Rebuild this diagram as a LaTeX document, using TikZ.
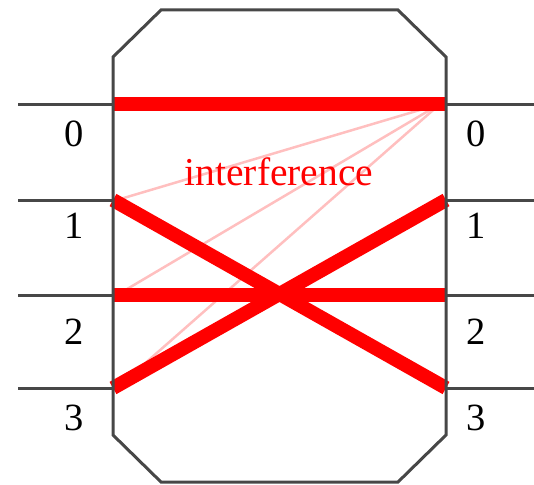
\documentclass[tikz,border=0pt]{standalone}
\usepackage{fontspec}
\setmainfont{Liberation Serif}
\begin{document}
\begin{tikzpicture}[x=1pt,y=-1pt,
  wire/.style={draw=black!72,line width=3pt},
  box/.style={draw=black!72,line width=3pt,line join=miter},
  beam/.style={draw=red,line width=14pt},
  ghost/.style={draw=red!25,line width=2.5pt},
  lbl/.style={font=\fontsize{38.5}{40}\selectfont,anchor=base,inner sep=0pt}]
\useasboundingbox (0,0) rectangle (534,484);
% ports
\coordinate (L0) at (113,104);
\coordinate (L1) at (113,200);
\coordinate (L2) at (113,295);
\coordinate (L3) at (113,388);
\coordinate (R0) at (446,104);
\coordinate (R1) at (446,200);
\coordinate (R2) at (446,295);
\coordinate (R3) at (446,388);
\coordinate (LE0) at (18,104);
\coordinate (LE1) at (18,200);
\coordinate (LE2) at (18,295);
\coordinate (LE3) at (18,388);
\coordinate (RE0) at (534,104);
\coordinate (RE1) at (534,200);
\coordinate (RE2) at (534,295);
\coordinate (RE3) at (534,388);
\coordinate (S) at (440,104);
\coordinate (G1) at (117,200);
\coordinate (G2) at (117,295);
\coordinate (G3) at (117,388);
% ghost lines
\draw[ghost] (S) -- (G1);
\draw[ghost] (S) -- (G2);
\draw[ghost] (S) -- (G3);
% beams
\draw[beam] (L0) -- (R0);
\draw[beam] (L2) -- (R2);
\draw[beam] (L1) -- (R3);
\draw[beam] (L3) -- (R1);
% wires
\foreach \i in {0,1,2,3} {
  \draw[wire] (LE\i) -- (L\i);
  \draw[wire] (R\i) -- (RE\i);
}
% box
\draw[box] (113,57) -- (161,10) -- (398,10) -- (446,57) -- (446,435) -- (398,482) -- (161,482) -- (113,435) -- cycle;
% labels
\node[lbl] (l0) at (74,146) {0};
\node[lbl] (l1) at (74,238) {1};
\node[lbl] (l2) at (74,344) {2};
\node[lbl] (l3) at (74,430) {3};
\node[lbl] (r0) at (476,146) {0};
\node[lbl] (r1) at (476,238) {1};
\node[lbl] (r2) at (476,344) {2};
\node[lbl] (r3) at (476,430) {3};
\node[lbl,text=red,font=\fontsize{39.5}{41}\selectfont] (intf) at (279,185) {interference};
\end{tikzpicture}
\end{document}
